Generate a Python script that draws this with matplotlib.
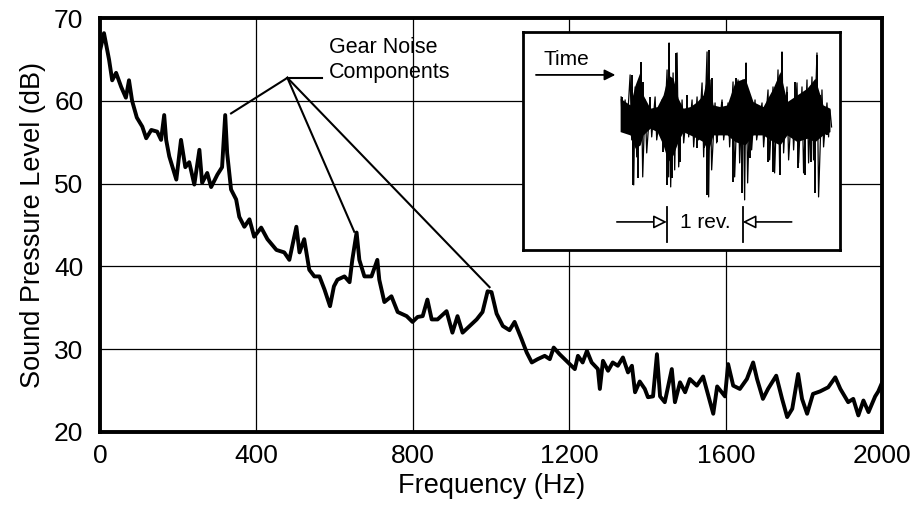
import matplotlib
matplotlib.use("Agg")
import matplotlib.pyplot as plt

plt.rcParams['font.family'] = ['Liberation Sans', 'DejaVu Sans']

# spectrum (Hz, dB)
freq = [0, 10, 23, 31, 41, 54, 66, 74, 82, 94, 108, 118, 131, 146, 156, 164, 169, 177,
        195, 207, 218, 228, 241, 254, 261, 274, 284, 300, 312, 320, 325, 335, 348, 356,
        369, 382, 394, 412, 428, 451, 471, 484, 502, 510, 522, 535, 548, 561, 574, 588,
        598, 607, 625, 638, 645, 656, 663, 676, 694, 709, 714, 727, 745, 761, 784, 799,
        812, 825, 837, 848, 863, 886, 901, 914, 927, 945, 963, 978, 991, 1001, 1014, 1030,
        1047, 1060, 1078, 1091, 1104, 1119, 1137, 1150, 1160, 1175, 1201, 1214, 1222, 1234,
        1245, 1257, 1273, 1278, 1286, 1299, 1311, 1324, 1337, 1350, 1360, 1368, 1380, 1393,
        1401, 1414, 1424, 1432, 1444, 1462, 1470, 1483, 1496, 1508, 1526, 1542, 1560, 1568,
        1578, 1598, 1606, 1619, 1636, 1654, 1670, 1680, 1695, 1708, 1729, 1744, 1757, 1770,
        1785, 1795, 1808, 1823, 1841, 1862, 1880, 1893, 1913, 1926, 1939, 1952, 1965, 1982,
        1990, 2000]
spl = [66.1, 68.2, 65, 62.5, 63.4, 61.7, 60.4, 62.5, 60, 58, 56.9, 55.5, 56.5, 56.3, 55.3,
       58.3, 55.3, 53.3, 50.5, 55.3, 52, 52.6, 49.9, 54.1, 50.1, 51.3, 49.6, 51.1, 52, 58.3,
       53.7, 49.3, 48.1, 46, 44.8, 45.7, 43.6, 44.7, 43.3, 42, 41.7, 40.8, 44.8, 41.7, 43.3,
       39.6, 38.8, 38.8, 37.2, 35.2, 37.6, 38.4, 38.8, 38.1, 40.8, 44.1, 40.8, 38.8, 38.8,
       40.8, 38.4, 35.7, 36.4, 34.5, 34, 33.3, 33.9, 34, 36, 33.6, 33.6, 34.6, 32, 34, 32,
       32.8, 33.6, 34.5, 37, 36.9, 34.3, 32.8, 32.3, 33.3, 31.2, 29.6, 28.4, 28.8, 29.2,
       28.8, 30.2, 29.4, 28.2, 27.6, 29.2, 28.4, 29.8, 28.4, 27.6, 25.2, 28.6, 27.4, 28.4,
       28, 29, 27.2, 28, 24.8, 26.1, 25.2, 24.2, 24.3, 29.4, 24.3, 23.6, 27.6, 23.6, 26,
       24.8, 26.4, 25.6, 26.7, 23.6, 22.2, 25.5, 24.3, 28.2, 25.6, 25.2, 26.4, 28.4, 26.4,
       24, 25.2, 26.8, 24, 21.8, 22.8, 27, 24, 22.2, 24.6, 24.9, 25.4, 26.6, 25.2, 23.6, 24,
       22, 23.8, 22.4, 24.3, 24.9, 26]

xticks = [0, 400, 800, 1200, 1600, 2000]
yticks = [20, 30, 40, 50, 60, 70]

# gear noise peaks pointed at (Hz, dB)
peak_f = [335, 650, 996]
peak_db = [58.5, 44.2, 37.5]

# inset time trace, arbitrary units
# dense part of the trace: time, upper and lower edge
t_env = [97, 107, 112, 117, 120, 127, 134, 140, 145, 150, 155, 160, 167, 174, 180, 185,
         190, 197, 204, 212, 222, 230, 240, 250, 257, 264, 274, 284, 292, 300, 307]
env_hi = [21.7, 15, 35, 48.3, 25, 11.7, 13.3, 25, 45, 41.7, 21.7, 11.7, 13.3, 18.3, 25,
          48.3, 15, 13.3, 15, 38.3, 41.7, 18.3, 13.3, 31.7, 48.3, 18.3, 25, 31.7, 41.7,
          15, 11.7]
env_lo = [-11.7, -15, -28.3, -25, -15, -8.3, -11.7, -25, -41.7, -35, -21.7, -11.7, -15,
          -18.3, -21.7, -31.7, -15, -15, -15, -21.7, -25, -15, -15, -21.7, -25, -15, -21.7,
          -18.3, -21.7, -15, -11.7]
# swings of the trace (time, top, bottom)
t_sig = [98, 102, 107, 109, 112, 118, 122, 127, 132, 139, 144, 146, 150, 154, 159, 164,
         169, 174, 179, 184, 187, 192, 199, 205, 210, 215, 220, 223, 227, 232, 239, 245,
         250, 255, 259, 264, 269, 274, 279, 284, 289, 294, 299, 304, 307]
sig_hi = [23, 20, 45, 33, 33, 57, 20, 17, 23, 20, 50, 77, 47, 67, 20, 13, 20, 23, 37, 68,
          40, 17, 20, 17, 38, 40, 40, 57, 23, 20, 17, 30, 33, 50, 68, 33, 17, 37, 33, 40,
          43, 67, 30, 17, 10]
sig_lo = [-10, -13, -20, -65, -37, -57, -33, -17, -20, -27, -57, -67, -50, -47, -23, -17,
          -27, -20, -37, -77, -50, -23, -20, -27, -57, -43, -80, -63, -30, -20, -27, -40,
          -53, -47, -33, -40, -30, -43, -53, -43, -40, -77, -27, -17, -7]
# single spikes sticking out of it
t_spike = [98.7, 108.7, 109.5, 110.3, 115.3, 117.7, 120.3, 127, 140.3, 144.3, 146.3, 148.7,
           153, 157, 163.7, 173.7, 181, 184.3, 186.3, 188.7, 193.7, 198.7, 210.3, 213,
           218.7, 223, 227, 245.3, 250.3, 253.7, 257, 258.7, 263.7, 272, 275.3, 282,
           287.7, 292, 293.7, 297, 303.7]
v_spike = [23.3, 45, -31.7, -65, -58.3, 58.3, 38.3, 23.3, -31.7, -65, 76.7, -58.3, 66.7,
           -41.7, 25, -28.3, -28.3, -75, 70, 41.7, -21.7, 18.3, -61.7, 41.7, -73.3, 56.7,
           -38.3, -41.7, -51.7, 31.7, -55, 68.3, 28.3, 38.3, -48.3, -55, -41.7, -73.3, 65,
           25, -15]

fig = plt.figure(figsize=(9.18, 5.07), dpi=100)
ax = fig.add_axes([0.109, 0.148, 0.852, 0.816])
ax.plot(freq, spl, color='black', lw=2.8, solid_joinstyle='round', zorder=3)
ax.set_xlim(0, 2000)
ax.set_ylim(20, 70)
ax.set_xticks(xticks)
ax.set_yticks(yticks)
ax.grid(True, color='black', lw=0.9)
ax.tick_params(length=0, labelsize=19)
ax.tick_params(axis='y', pad=12)
ax.tick_params(axis='x', pad=9)
for s in ax.spines.values():
    s.set_linewidth(2.8)
ax.set_xlabel('Frequency (Hz)', fontsize=19.5, labelpad=3)
ax.set_ylabel('Sound Pressure Level (dB)', fontsize=19.5, labelpad=6)

# callout lines
apex = (479, 62.8)
ax.plot([apex[0], 568], [apex[1], apex[1]], color='black', lw=1.5, zorder=4)
for pf, pd in zip(peak_f, peak_db):
    ax.plot([apex[0], pf], [apex[1], pd], color='black', lw=1.5, zorder=4)
ax.text(586, 64.9, 'Gear Noise\nComponents', fontsize=15.5, ha='left', va='center',
        linespacing=1.25)

# inset with time signal
ins = ax.inset_axes([0.541, 0.44, 0.405, 0.527])
ins.set_xlim(0, 317)
ins.set_ylim(-130, 88)
ins.set_xticks([])
ins.set_yticks([])
for s in ins.spines.values():
    s.set_linewidth(2)
ins.set_zorder(5)
ins.fill_between(t_env, env_lo, env_hi, color='black', lw=0)
zig_t, zig_v = [], []
for t, hi, lo in zip(t_sig, sig_hi, sig_lo):
    zig_t += [t, t + 1.6]
    zig_v += [hi, lo]
ins.plot(zig_t, zig_v, color='black', lw=0.9)
ins.vlines(t_spike, 0, v_spike, color='black', lw=1.4)

ins.text(20, 60, 'Time', fontsize=15, ha='left', va='center')
ins.annotate('', xy=(95, 45), xytext=(10, 45),
             arrowprops=dict(arrowstyle='-|>', color='black', lw=1.3, mutation_scale=16))
ins.plot([143.7, 143.7], [-87, -122], color='black', lw=1.3)
ins.plot([219.7, 219.7], [-87, -122], color='black', lw=1.3)
ins.text(182, -103, '1 rev.', fontsize=15, ha='center', va='center')
ins.annotate('', xy=(143.7, -102), xytext=(93.7, -102),
             arrowprops=dict(arrowstyle='-|>', fc='white', ec='black', lw=1.2,
                             mutation_scale=20, shrinkA=0, shrinkB=0))
ins.annotate('', xy=(219.7, -102), xytext=(268.7, -102),
             arrowprops=dict(arrowstyle='-|>', fc='white', ec='black', lw=1.2,
                             mutation_scale=20, shrinkA=0, shrinkB=0))

fig.savefig('out.png', dpi=100)
